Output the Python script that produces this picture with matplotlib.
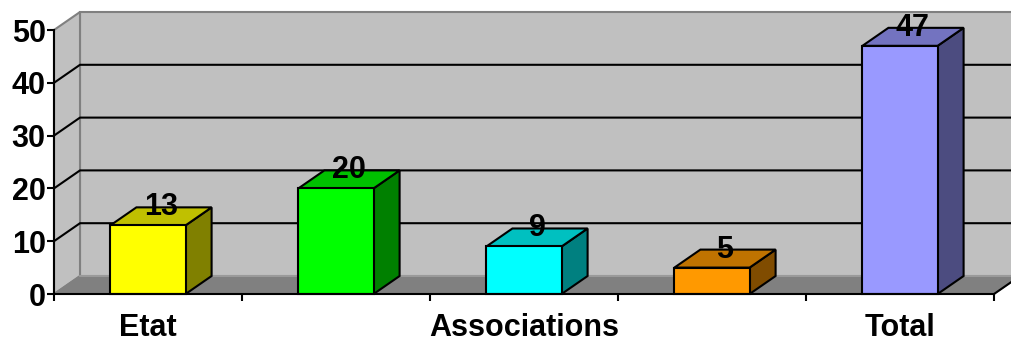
import matplotlib.pyplot as plt
from matplotlib.patches import Polygon

categories = ["Etat", "", "Associations", "", "Total"]
values = [13, 20, 9, 5, 47]
front_colors = ["#FFFF00", "#00FF00", "#00FFFF", "#FF9900", "#9999FF"]
top_colors = ["#C0C000", "#00C000", "#00C0C0", "#C07300", "#7373C0"]
side_colors = ["#808000", "#008000", "#008080", "#804C00", "#4C4C80"]
yticks = [0, 10, 20, 30, 40, 50]

W, H = 1012, 338
fig = plt.figure(figsize=(W / 100, H / 100), dpi=100)
# front plane of the 3D box
x0, x1, y0, y1 = 54, 994, 294, 30
ax = fig.add_axes([x0 / W, 1 - y0 / H, (x1 - x0) / W, (y0 - y1) / H])
n = len(categories)
ax.set_xlim(-0.5, n - 0.5)
ax.set_ylim(0, 50)

# depth offset in data units
dx = 26 / ((x1 - x0) / n)
dy = 18 / ((y0 - y1) / 50)
lo, hi = -0.5, n - 0.5
font = dict(fontsize=22, fontweight="bold", family="Liberation Sans")


def poly(pts, fc, ec, lw=1.0, z=1):
    ax.add_patch(Polygon(pts, closed=True, facecolor=fc, edgecolor=ec,
                         linewidth=lw, zorder=z, clip_on=False))


# walls and floor
poly([(lo + dx, dy), (hi + dx, dy), (hi + dx, 50 + dy), (lo + dx, 50 + dy)],
     "#C0C0C0", "#808080", 1.5, 0)
poly([(lo, 0), (lo + dx, dy), (lo + dx, 50 + dy), (lo, 50)],
     "#C0C0C0", "#808080", 1.5, 0)
poly([(lo, 0), (hi, 0), (hi + dx, dy), (lo + dx, dy)],
     "#808080", "#808080", 1.0, 0.5)
ax.plot([lo + dx, hi + dx], [dy, dy], color="#A0A0A0", lw=1.2, zorder=0.6,
        clip_on=False)
ax.plot([hi, hi + dx], [0, dy], color="black", lw=1.5, zorder=0.7, clip_on=False)

# gridlines on the back wall and left wall
for t in yticks[1:-1]:
    ax.plot([lo, lo + dx, hi + dx], [t, t + dy, t + dy], color="black",
            lw=1.5, zorder=0.8, clip_on=False)

# bars
bw = 0.4
for i, v in enumerate(values):
    l, r = i - bw / 2, i + bw / 2
    poly([(r, 0), (r + dx, dy), (r + dx, v + dy), (r, v)], side_colors[i], "black", 1.5, 2)
    poly([(l, v), (r, v), (r + dx, v + dy), (l + dx, v + dy)], top_colors[i], "black", 1.5, 2)
    poly([(l, 0), (r, 0), (r, v), (l, v)], front_colors[i], "black", 1.5, 3)
    ax.text(i + dx / 2, v + dy, str(v), ha="center", va="center", zorder=5, **font)

for s in ["top", "right"]:
    ax.spines[s].set_visible(False)
for s in ["left", "bottom"]:
    ax.spines[s].set_linewidth(1.5)
    ax.spines[s].set_zorder(4)
ax.patch.set_visible(False)

ax.set_yticks(yticks)
ax.set_yticklabels([str(t) for t in yticks], **font)
ax.tick_params(axis="y", length=5, width=1.5, pad=1)

ax.set_xticks(range(n))
ax.set_xticklabels(categories, **font)
ax.set_xticks([k - 0.5 for k in range(n + 1)], minor=True)
ax.tick_params(axis="x", which="major", length=0, pad=14)
ax.tick_params(axis="x", which="minor", length=5, width=1.5)

fig.savefig("out.png", dpi=100)
